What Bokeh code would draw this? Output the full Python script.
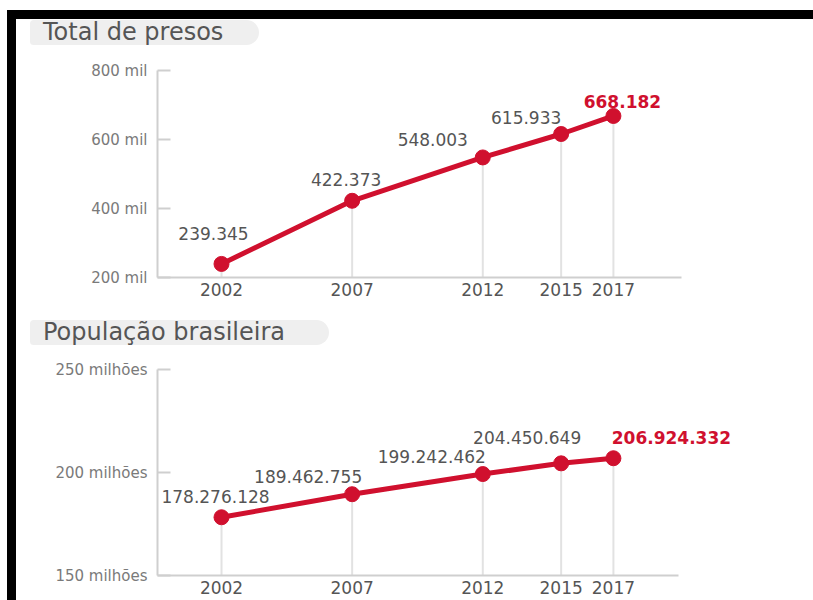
from bokeh.plotting import figure
from bokeh.models import FixedTicker, ColumnDataSource, Div
from bokeh.layouts import column
from bokeh.core.properties import value
from bokeh.embed import file_html
from bokeh.resources import INLINE

# ---------------- data ----------------
years = [2002, 2007, 2012, 2015, 2017]
year_labels = ["2002", "2007", "2012", "2015", "2017"]

presos = [239345, 422373, 548003, 615933, 668182]
presos_labels = ["239.345", "422.373", "548.003", "615.933", "668.182"]
presos_ticks = [200000, 400000, 600000, 800000]
presos_tick_labels = ["200 mil", "400 mil", "600 mil", "800 mil"]

populacao = [178276128, 189462755, 199242462, 204450649, 206924332]
populacao_labels = ["178.276.128", "189.462.755", "199.242.462", "204.450.649", "206.924.332"]
pop_ticks = [150000000, 200000000, 250000000]
pop_tick_labels = ["150 milhões", "200 milhões", "250 milhões"]

titles = ["Total de presos", "População brasileira"]

# ---------------- styles ----------------
RED = "#d0102e"
TXT = "#555555"
YTXT = "#7a7a7a"
AXIS = "#cfcfcf"
GRID = "#e2e2e2"
FONT = "DejaVu Sans"

presos_dx = [-8, -6, -50, -35, 9]
presos_dy = [-30, -21, -18, -17, -14]
pop_dx = [-6, -44, -51, -34, 58]
pop_dy = [-21, -18, -18, -26, -21]

X_VIEW = (1999.55, 2022.63)


def build(vals, labels, ticks, tick_labels, yr, axis_end, height, top, bottom, dx, dy):
    p = figure(width=797, height=height, x_range=X_VIEW, y_range=yr,
               output_backend="svg", toolbar_location=None,
               min_border_left=141, min_border_right=53,
               min_border_top=top, min_border_bottom=bottom)
    p.outline_line_color = None
    p.background_fill_color = "white"
    p.border_fill_color = "white"
    p.xgrid.visible = False
    p.ygrid.visible = False

    p.yaxis.ticker = FixedTicker(ticks=ticks)
    p.yaxis.major_label_overrides = {t: l for t, l in zip(ticks, tick_labels)}
    p.yaxis.axis_line_color = AXIS
    p.yaxis.axis_line_width = 2
    p.yaxis.major_tick_line_color = AXIS
    p.yaxis.major_tick_line_width = 2
    p.yaxis.major_tick_in = 13
    p.yaxis.major_tick_out = 0
    p.yaxis.minor_tick_line_color = None
    p.yaxis.major_label_standoff = 10
    p.yaxis.major_label_text_font = FONT
    p.yaxis.major_label_text_font_size = "15px"
    p.yaxis.major_label_text_color = YTXT

    p.xaxis.ticker = FixedTicker(ticks=years)
    p.xaxis.bounds = (X_VIEW[0], axis_end)
    p.xaxis.major_label_overrides = {y: l for y, l in zip(years, year_labels)}
    p.xaxis.axis_line_color = AXIS
    p.xaxis.axis_line_width = 2
    p.xaxis.major_tick_line_color = None
    p.xaxis.minor_tick_line_color = None
    p.xaxis.major_tick_in = 0
    p.xaxis.major_tick_out = 0
    p.xaxis.major_label_standoff = 5
    p.xaxis.major_label_text_font = FONT
    p.xaxis.major_label_text_font_size = "17px"
    p.xaxis.major_label_text_color = TXT

    n = len(vals)
    src = ColumnDataSource(dict(
        x=years, y=vals, base=[yr[0]] * n, label=labels, dx=dx, dy=dy,
        color=[TXT] * (n - 1) + [RED],
        style=["normal"] * (n - 1) + ["bold"],
    ))
    p.segment(x0="x", y0="base", x1="x", y1="y", source=src,
              line_color=GRID, line_width=2)
    p.line("x", "y", source=src, line_color=RED, line_width=5)
    p.scatter("x", "y", source=src, size=15, fill_color=RED, line_color=RED)
    p.text("x", "y", text="label", source=src, x_offset="dx", y_offset="dy",
           text_align="center", text_baseline="middle",
           text_font=value(FONT), text_font_size="17px",
           text_color="color", text_font_style="style")
    return p


def pill(title, height, mtop, pad_right):
    html = (
        f'<div style="display:inline-block;margin:{mtop}px 0 0 14px;'
        f'padding:0 {pad_right}px 0 13px;height:25px;line-height:25px;'
        f'background:#efefef;border-radius:4px 13px 13px 4px;'
        f"font-family:'DejaVu Sans';font-size:24px;color:{TXT};"
        f'white-space:nowrap;">{title}</div>'
    )
    return Div(text=html, width=797, height=height, margin=0)


d1 = pill(titles[0], 31, 1, 36)
p1 = build(presos, presos_labels, presos_ticks, presos_tick_labels,
           (200000, 800000), 2019.60, 252, 20, 25, presos_dx, presos_dy)
d2 = pill(titles[1], 50, 18, 44)
p2 = build(populacao, populacao_labels, pop_ticks, pop_tick_labels,
           (150000000, 250000000), 2019.49, 248, 17, 25, pop_dx, pop_dy)

lay = column(d1, p1, d2, p2, spacing=0, margin=(10, 0, 0, 7),
             styles={"border-top": "9px solid black", "border-left": "9px solid black"})

open("out.html", "w").write(file_html(lay, INLINE))
